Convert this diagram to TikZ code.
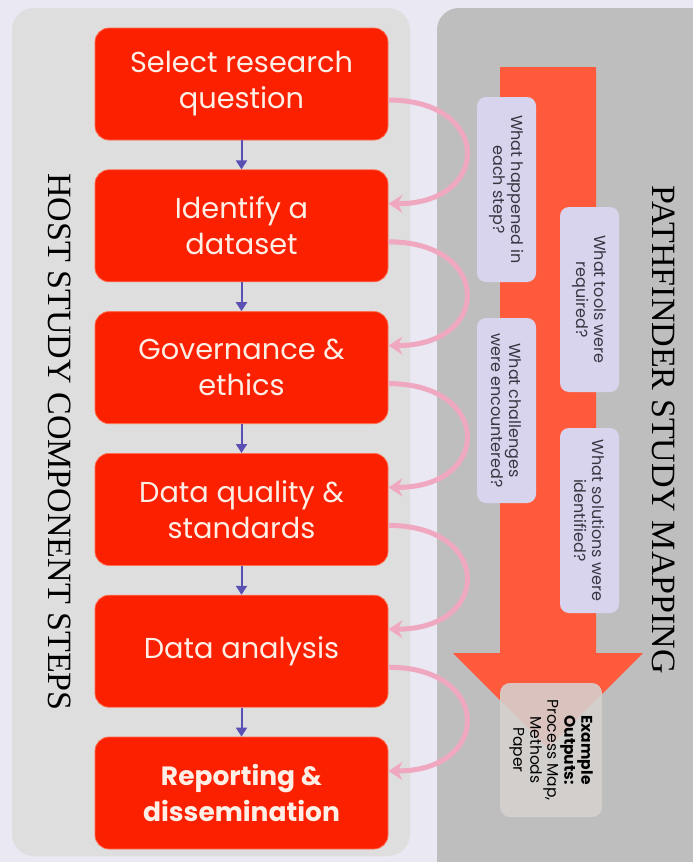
\documentclass[tikz,border=0pt]{standalone}
\usepackage{fontspec}
\setmainfont{Liberation Serif}
\newfontfamily\gothic{Poppins}
\usetikzlibrary{arrows.meta,positioning}
\definecolor{lavbg}{RGB}{233,232,243}
\definecolor{hostgrey}{RGB}{222,222,222}
\definecolor{pathgrey}{RGB}{190,190,190}
\definecolor{stepred}{RGB}{250,32,0}
\definecolor{stepedge}{RGB}{255,110,80}
\definecolor{steptext}{RGB}{255,238,230}
\definecolor{shaftred}{RGB}{255,90,60}
\definecolor{linkblue}{RGB}{90,80,180}
\definecolor{arcpink}{RGB}{240,168,192}
\definecolor{asklav}{RGB}{216,212,238}
\definecolor{asktext}{RGB}{55,55,65}
\definecolor{outgrey}{RGB}{214,210,208}
\tikzset{
	stepbox/.style={rectangle, rounded corners=14pt, fill=stepred, draw=stepedge, line width=0.8pt,
		text=steptext, minimum width=293pt, minimum height=112pt, align=center,
		font=\gothic\fontsize{28.8}{36}\selectfont},
	askbox/.style={rectangle, rounded corners=9pt, fill=asklav, rotate=-90, minimum width=185pt,
		minimum height=59pt, align=center, text=asktext, font=\gothic\fontsize{16}{18}\selectfont},
	outbox/.style={rectangle, rounded corners=10pt, fill=outgrey, fill opacity=0.88, text opacity=1,
		rotate=-90, minimum width=134pt, minimum height=102pt, align=center, text=black,
		font=\gothic\fontsize{15.5}{17}\selectfont},
	paneltitle/.style={rotate=-90, font=\fontsize{34}{40}\selectfont},
	link/.style={linkblue, line width=2pt, -{Triangle[length=9pt,width=11pt]}},
	backarc/.style={arcpink, line width=5pt, -{Stealth[length=14pt,width=18pt]}}
}
\begin{document}
\begin{tikzpicture}[x=1pt,y=-1pt]
	\fill[lavbg] (0,0) rectangle (693,862);
	\clip (0,0) rectangle (693,862);
	\fill[hostgrey, rounded corners=22pt] (12,8) rectangle (410,856);
	\fill[pathgrey, rounded corners=22pt] (437,8) rectangle (740,900);
	\fill[shaftred] (500,67) -- (596,67) -- (596,653) -- (643,653) -- (548,748) -- (453,653) -- (500,653) -- cycle;
	\node[stepbox] (s1) at (241.5,84) {Select research\\question};
	\node[stepbox, below=29pt of s1] (s2) {Identify a\\dataset};
	\node[stepbox, below=29pt of s2] (s3) {Governance \&\\ethics};
	\node[stepbox, below=29pt of s3] (s4) {Data quality \&\\standards};
	\node[stepbox, below=29pt of s4] (s5) {Data analysis};
	\node[stepbox, below=29pt of s5, font=\gothic\bfseries\fontsize{26.5}{36}\selectfont] (s6) {Reporting \&\\dissemination};
	\foreach \a/\b in {s1/s2, s2/s3, s3/s4, s4/s5, s5/s6}
		\draw[link] (\a) -- (\b);
	\foreach \a/\b in {s1/s2, s2/s3, s3/s4, s4/s5, s5/s6}
		\draw[backarc] ([yshift=-16pt]\a.east) .. controls +(104,0) and +(104,0) .. ([yshift=22pt]\b.east);
	\node[askbox] (q1) at (506.5,189.5) {What happened in\\each step?};
	\node[askbox] (q2) at (589.5,299.5) {What tools were\\required?};
	\node[askbox] (q3) at (506.5,410.5) {What challenges\\were encountered?};
	\node[askbox] (q4) at (589.5,520.5) {What solutions were\\identified?};
	\node[outbox] (out) at (551,750) {\textbf{Example}\\\textbf{Outputs:}\\Process Map,\\Methods\\Paper};
	\node[paneltitle] (host) at (60,442) {HOST STUDY COMPONENT STEPS};
	\node[paneltitle] (path) at (664,430) {PATHFINDER STUDY MAPPING};
\end{tikzpicture}
\end{document}
